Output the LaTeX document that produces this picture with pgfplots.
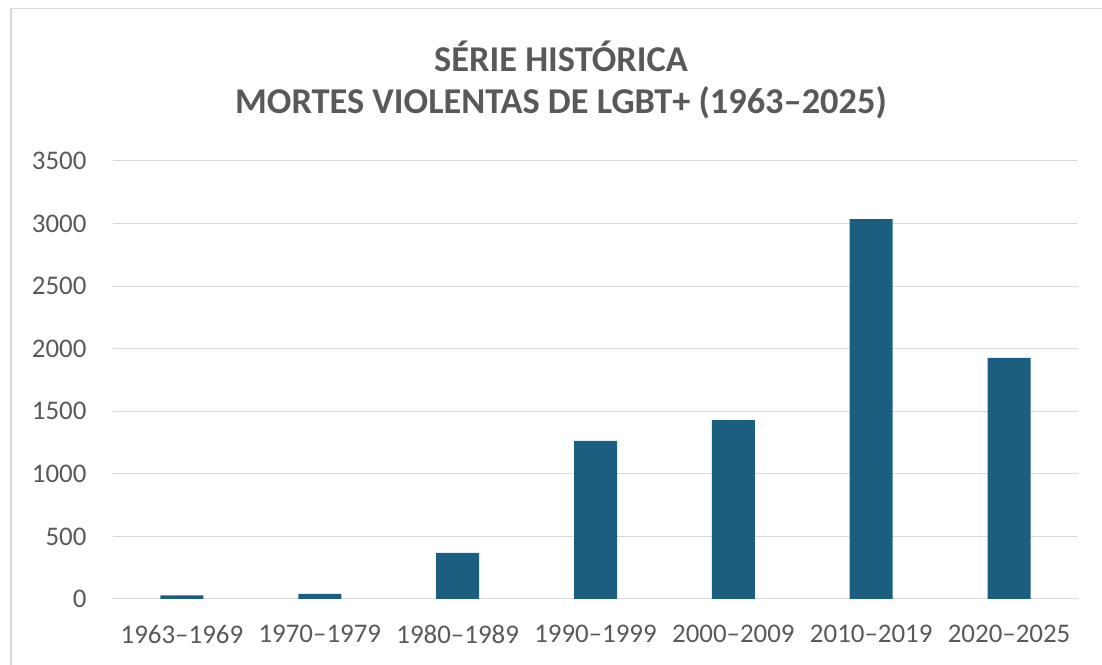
\documentclass[border=0pt]{standalone}
\usepackage{pgfplots}
\pgfplotsset{compat=1.18}
\usepackage{fontspec}
\setmainfont{Carlito}
\definecolor{barblue}{RGB}{27,94,128}
\definecolor{txtgray}{RGB}{89,89,89}
\definecolor{gridgray}{RGB}{217,217,217}
\definecolor{framegray}{RGB}{217,217,217}
\begin{document}
\begin{tikzpicture}[x=1bp,y=1bp]
\path[use as bounding box] (0,0) rectangle (1102,665);
\draw[framegray, line width=1.5bp] (11,-5) -- (11,656.5) -- (1110,656.5);
\node[txtgray, font=\fontsize{36.5}{40}\selectfont\bfseries, anchor=center] at (561,609) {SÉRIE HISTÓRICA};
\node[txtgray, font=\fontsize{36.5}{40}\selectfont\bfseries, anchor=center] at (561,562) {MORTES VIOLENTAS DE LGBT+ (1963–2025)};
\begin{axis}[
  at={(113bp,66bp)}, anchor=south west,
  scale only axis, width=965bp, height=438bp,
  xmin=-0.5, xmax=6.5, ymin=0, ymax=3500,
  ytick={0,500,...,3500},
  xtick={0,...,6},
  xticklabels={1963–1969,1970–1979,1980–1989,1990–1999,2000–2009,2010–2019,2020–2025},
  axis line style={draw=none},
  axis x line*=bottom,
  x axis line style={draw=gridgray, line width=1bp},
  major tick length=0pt,
  ymajorgrids, grid style={gridgray, line width=1bp},
  tick label style={txtgray, font=\fontsize{27}{31}\selectfont},
  /pgf/number format/assume math mode=true,
  /pgf/number format/set thousands separator={},
  yticklabel style={xshift=-23bp},
  xticklabel style={yshift=-23bp},
  ybar, bar width=43bp,
]
\addplot[fill=barblue, draw=none] coordinates {(0,28) (1,40) (2,368) (3,1263) (4,1430) (5,3036) (6,1926)};
\end{axis}
\end{tikzpicture}
\end{document}
